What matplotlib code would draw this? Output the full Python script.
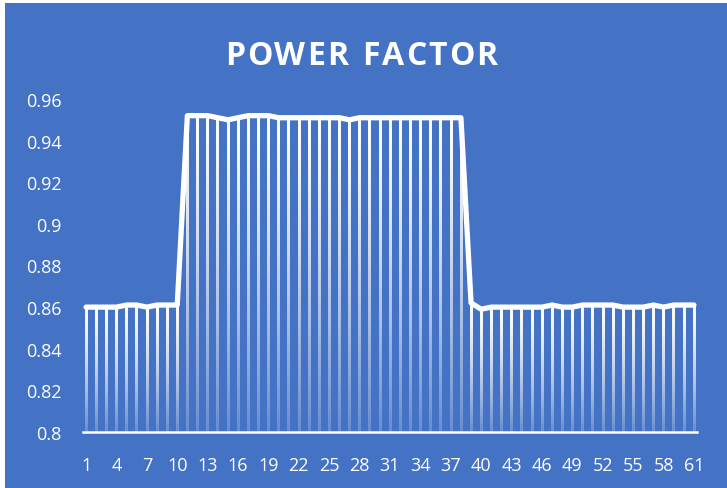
import numpy as np
import matplotlib
matplotlib.use("Agg")
import matplotlib.pyplot as plt
from matplotlib.patches import Rectangle

## power factor per reading
points = list(range(1, 62))
pf = [0.86, 0.86, 0.86, 0.86, 0.861, 0.861, 0.86, 0.861, 0.861, 0.861,
      0.952, 0.952, 0.952, 0.951, 0.950, 0.951, 0.952, 0.952, 0.952, 0.951,
      0.951, 0.951, 0.951, 0.951, 0.951, 0.951, 0.950, 0.951, 0.951, 0.951,
      0.951, 0.951, 0.951, 0.951, 0.951, 0.951, 0.951, 0.951, 0.862, 0.859,
      0.86, 0.86, 0.86, 0.86, 0.86, 0.86, 0.861, 0.86, 0.86, 0.861,
      0.861, 0.861, 0.861, 0.86, 0.86, 0.86, 0.861, 0.86, 0.861, 0.861,
      0.861]
xticks = list(range(1, 62, 3))
yticks = [0.8, 0.82, 0.84, 0.86, 0.88, 0.9, 0.92, 0.94, 0.96]
ytick_labels = ["0.8", "0.82", "0.84", "0.86", "0.88", "0.9", "0.92", "0.94", "0.96"]

bg = "#4472C4"
W, H = 727, 489
fig = plt.figure(figsize=(W / 100, H / 100), dpi=100)
fig.patch.set_facecolor("white")
fig.patches.append(Rectangle((5 / W, 0), 1 - 5 / W, 1 - 4 / H, transform=fig.transFigure,
                             facecolor=bg, edgecolor="none", zorder=-5))

ax = fig.add_axes([82.5 / W, 1 - 433 / H, 615 / W, 333 / H])
ax.set_zorder(2)
ax.patch.set_alpha(0)

# drop lines, fading from top to bottom of each line
t = np.linspace(0, 1, 100)
grad = np.ones((100, 1, 4))
grad[:, 0, 3] = 1 - 0.8 * t ** 1.3
half = 0.125
for x, v in zip(points, pf):
    ax.imshow(grad, extent=[x - half, x + half, 0.8, v], origin="upper",
              aspect="auto", interpolation="bilinear", zorder=2)

ax.plot(points, pf, color="white", lw=3.8, solid_joinstyle="round", solid_capstyle="round", zorder=4)

ax.set_xlim(0.65, 61.35)
ax.set_ylim(0.8, 0.96)
ax.set_aspect("auto")
for s in ["top", "right", "left"]:
    ax.spines[s].set_visible(False)
ax.spines["bottom"].set_color("white")
ax.spines["bottom"].set_linewidth(1.8)
ax.spines["bottom"].set_zorder(5)

ax.set_xticks(xticks)
ax.set_xticklabels([str(t) for t in xticks])
ax.set_yticks(yticks)
ax.set_yticklabels(ytick_labels)
ax.tick_params(axis="both", length=0, colors="white", labelsize=13)
ax.tick_params(axis="x", pad=17)
ax.tick_params(axis="y", pad=15)
for lab in ax.get_xticklabels() + ax.get_yticklabels():
    lab.set_fontfamily("Open Sans")

# title with letter spacing
title = "POWER FACTOR"
renderer = fig.canvas.get_renderer()
spacing = 2.0
fs = 23
widths = []
for ch in title:
    tx = fig.text(0, 0, ch if ch != " " else "I", fontsize=fs, fontweight="bold", family="Open Sans")
    w = tx.get_window_extent(renderer).width
    if ch == " ":
        w = w * 0.9
    widths.append(w)
    tx.remove()
total = sum(widths) + spacing * (len(title) - 1)
xpos = 361 - total / 2
for ch, w in zip(title, widths):
    if ch != " ":
        fig.text(xpos / W, 1 - 65 / H, ch, fontsize=fs, fontweight="bold", family="Open Sans",
                 color="white", ha="left", va="baseline")
    xpos += w + spacing

fig.savefig("out.png", dpi=100, facecolor=fig.get_facecolor())
